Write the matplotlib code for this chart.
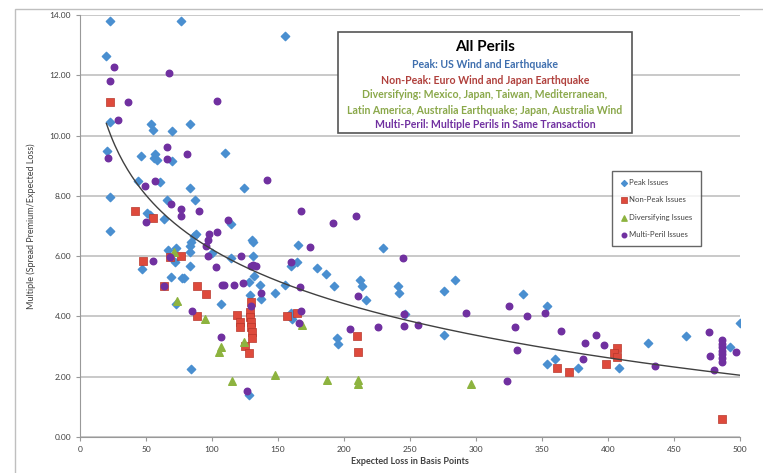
import numpy as np
import matplotlib
matplotlib.use("Agg")
import matplotlib.pyplot as plt
from matplotlib.patches import Rectangle

plt.rcParams['font.family'] = ['Lato', 'DejaVu Sans']

# --- data (x = expected loss bp, y = multiple) ---
peak_x = [22.8, 76.7, 19.8, 22.8, 54, 55, 70, 83, 20.8, 46, 57, 56, 58.2, 70, 44, 60.3, 83,
          22.8, 66, 86.9, 51, 53, 64, 22.8, 66.6, 72.5, 72.2, 47, 69, 77, 79, 83, 72.5, 84,
          83.8, 83.5, 83.2, 86.5, 88, 100, 114.3, 114.7, 130.4, 130.8, 131, 131.5, 128, 136,
          128.6, 136.8, 147.8, 107, 127.9, 165.5, 159.6, 164.6, 155.5, 159.6, 160.8, 155,
          109.7, 124.6, 179.8, 186.7, 192.5, 229.2, 212.3, 213.5, 216.6, 240.6, 241.9, 246.4,
          194.5, 195.8, 276, 284.4, 275.5, 335.9, 353.6, 353.8, 359.7, 377.4, 408.5, 430.6,
          459.2, 492.6, 499.7]
peak_y = [13.81, 13.81, 12.64, 10.46, 10.4, 10.17, 10.15, 10.37, 9.5, 9.33, 9.38, 9.25, 9.19,
          9.14, 8.5, 8.47, 8.25, 7.95, 7.85, 7.85, 7.42, 7.38, 7.23, 6.82, 6.2, 6.26, 5.82,
          5.56, 5.31, 5.29, 5.27, 5.68, 4.4, 2.27, 6.48, 6.32, 6.15, 6.67, 6.75, 6.09, 7.08,
          5.93, 6.55, 6.47, 6.0, 5.35, 5.13, 5.04, 4.71, 4.57, 4.78, 4.4, 1.39, 6.38, 5.67,
          5.82, 5.03, 4.1, 3.93, 13.3, 9.41, 8.27, 5.6, 5.4, 5.01, 6.26, 5.21, 5.01, 4.55,
          5.01, 4.79, 4.07, 3.27, 3.09, 4.84, 5.21, 3.38, 4.74, 4.35, 2.42, 2.59, 2.28, 2.3,
          3.11, 3.35, 2.98, 3.79]

nonpeak_x = [22.5, 41.8, 55, 48, 68, 76.2, 64, 88.7, 88.7, 95.5, 129.2, 128.7, 128.7, 129.2,
             129.2, 130.5, 130.5, 125, 127.8, 119, 120.9, 120.9, 156.7, 164.6, 209.7, 210.7,
             361.5, 370.6, 398.4, 406.5, 404.5, 406.5, 486.3]
nonpeak_y = [11.13, 7.51, 7.26, 5.85, 5.98, 6.01, 5.01, 5.01, 4.01, 4.73, 4.49, 4.16, 3.97,
             3.83, 3.66, 3.49, 3.28, 3.03, 2.8, 4.05, 3.8, 3.66, 4.02, 4.12, 3.36, 2.81, 2.28,
             2.17, 2.41, 2.96, 2.8, 2.66, 0.59]

divers_x = [71, 73.8, 95, 107, 105, 124.6, 115, 148, 168.2, 187.4, 210.7, 210.7, 296.4]
divers_y = [6.15, 4.52, 3.93, 3.0, 2.83, 3.15, 1.87, 2.06, 3.73, 1.89, 1.89, 1.75, 1.75]

multi_x = [25.6, 67.1, 22.5, 36.7, 28.6, 21.5, 65.8, 65.8, 81, 48.9, 57, 69, 76.7, 76.2, 49.9,
           55, 68, 84.9, 90.5, 98, 97, 103.8, 95.5, 97, 112, 121.6, 131, 133, 129.7, 123.8,
           107.7, 109.3, 116.3, 136.8, 103, 129.5, 107, 126.6, 64, 103.8, 141.3, 167.7, 174,
           159.6, 166.6, 167.5, 165.9, 191.7, 209, 244.4, 210.7, 245.2, 245.7, 225.5, 256.3,
           204.6, 292.6, 324.7, 329.2, 338.4, 331.3, 323.7, 352.6, 364.2, 382.5, 381.2, 390.8,
           396.7, 435.6, 476.2, 477.5, 480.5, 486.3, 486.3, 486.3, 486.3, 486.3, 486.3, 486.3,
           497.2]
multi_y = [12.29, 12.09, 11.81, 11.1, 10.53, 9.25, 9.61, 9.22, 9.38, 8.34, 8.49, 7.72, 7.58,
           7.34, 7.14, 5.85, 5.96, 4.19, 7.49, 6.72, 6.52, 6.79, 6.32, 6.0, 7.2, 6.0, 5.71,
           5.67, 5.66, 5.1, 5.05, 5.05, 5.05, 4.78, 5.63, 4.36, 3.33, 1.54, 5.01, 11.15, 8.51,
           7.5, 6.3, 5.82, 4.97, 4.18, 3.79, 7.09, 7.33, 5.95, 4.68, 4.07, 3.68, 3.66, 3.72,
           3.57, 4.1, 4.35, 3.64, 4.01, 2.89, 1.86, 4.13, 3.52, 3.11, 2.58, 3.38, 3.05, 2.37,
           3.47, 2.69, 2.22, 3.22, 3.1, 2.98, 2.86, 2.74, 2.62, 2.5, 2.83]

# logarithmic trendline y = a + b*ln(x)
trend_a, trend_b = 18.17, -2.594
trend_range = (20, 500)

fig = plt.figure(figsize=(7.63, 4.73), dpi=100)
ax = fig.add_axes([80 / 763, 36 / 473, 660 / 763, 422 / 473])

# outer chart frame
fig.patches.append(Rectangle((15 / 763, -0.1), 1.2, (473 - 9) / 473 + 0.1,
                             transform=fig.transFigure, fill=False,
                             edgecolor='#bfbfbf', lw=1.0))

ax.scatter(peak_x, peak_y, marker='D', s=18, color='#4a8fd0', label='Peak Issues', zorder=3)
ax.scatter(nonpeak_x, nonpeak_y, marker='s', s=38, color='#de4a3c', edgecolors='#b8372c',
           linewidths=0.5, label='Non-Peak Issues', zorder=3)
ax.scatter(divers_x, divers_y, marker='^', s=30, color='#8db33f', label='Diversifying Issues',
           zorder=3)
ax.scatter(multi_x, multi_y, marker='o', s=22, color='#7030a0', label='Multi-Peril Issues',
           zorder=3)

tx = np.linspace(trend_range[0], trend_range[1], 300)
ax.plot(tx, trend_a + trend_b * np.log(tx), color='#404040', lw=1.0, zorder=4)

ax.set_xlim(0, 500)
ax.set_ylim(0, 14)
ax.set_xticks(np.arange(0, 501, 50))
ax.set_yticks(np.arange(0, 14.1, 2))
ax.set_yticklabels([f'{v:.2f}' for v in np.arange(0, 14.1, 2)])
ax.tick_params(axis='both', labelsize=6, colors='#404040', length=3, width=0.8)
ax.tick_params(axis='both', color='#999999')
ax.yaxis.grid(True, color='#c0c0c0', lw=1.2)
ax.set_axisbelow(True)
for s in ['top', 'right']:
    ax.spines[s].set_visible(False)
for s in ['left', 'bottom']:
    ax.spines[s].set_color('#999999')
    ax.spines[s].set_linewidth(0.8)

ax.set_xlabel('Expected Loss in Basis Points', fontsize=6.5, fontweight='bold',
              color='#404040', labelpad=3)
ax.set_ylabel('Multiple (Spread Premium/Expected Loss)', fontsize=6.5, color='#404040',
              labelpad=10)

leg = ax.legend(loc='upper left', bbox_to_anchor=(0.8, 0.64), fontsize=5.6,
                frameon=True, fancybox=False, edgecolor='#404040', borderpad=1.1,
                handletextpad=0.1, labelspacing=1.3, handlelength=1.0, markerscale=0.7)
leg.get_frame().set_linewidth(1.0)
for t in leg.get_texts():
    t.set_color('#404040')

# title box
ax.add_patch(Rectangle(((338 - 80) / 660, (437 - 133) / 422), 294 / 660, 101 / 422,
                       transform=ax.transAxes, facecolor='white', edgecolor='#555555',
                       lw=1.2, zorder=5))
cx = (485 - 80) / 660
ax.text(cx, (437 - 47) / 422, 'All Perils', transform=ax.transAxes, ha='center', va='center',
        fontsize=11, fontweight='bold', color='black', zorder=6)
lines = [('Peak: US Wind and Earthquake', '#3f6fae', 64),
         ('Non-Peak: Euro Wind and Japan Earthquake', '#b0403c', 80),
         ('Diversifying: Mexico, Japan, Taiwan, Mediterranean,', '#8aa84a', 95),
         ('Latin America, Australia Earthquake; Japan, Australia Wind', '#8aa84a', 110),
         ('Multi-Peril: Multiple Perils in Same Transaction', '#7030a0', 125)]
for txt, col, py in lines:
    ax.text(cx, (437 - py) / 422, txt, transform=ax.transAxes, ha='center', va='center',
            fontsize=7.6, fontweight='bold', color=col, zorder=6)

fig.savefig('out.png', dpi=100)
